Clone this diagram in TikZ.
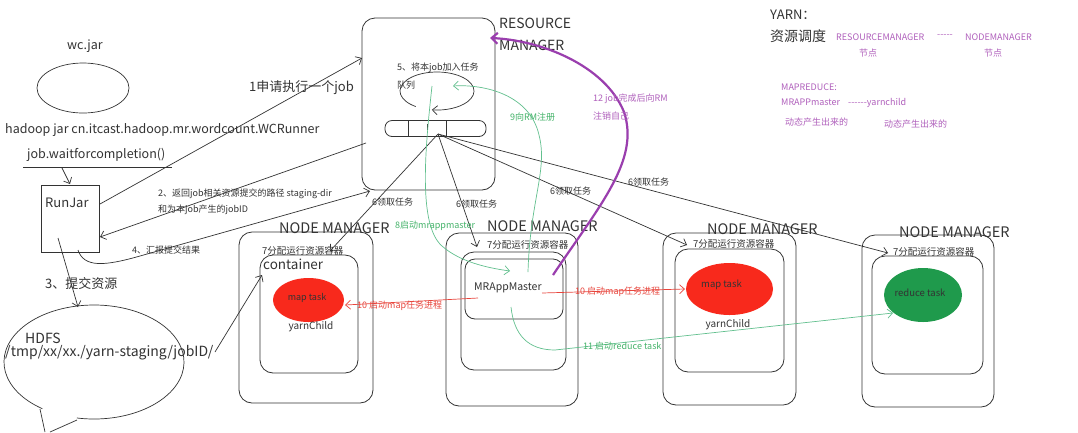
\documentclass[tikz,border=0pt]{standalone}
\usepackage{fontspec}
\setmainfont{Noto Sans CJK SC}
\usetikzlibrary{arrows.meta,shapes.geometric}
\definecolor{inkc}{HTML}{333333}
\definecolor{purtext}{HTML}{B060BC}
\definecolor{purline}{HTML}{9A3EAE}
\definecolor{grnline}{HTML}{62C08E}
\definecolor{grntext}{HTML}{45B36A}
\definecolor{redline}{HTML}{E8453C}
\definecolor{redfill}{HTML}{F8291C}
\definecolor{greenfill}{HTML}{1F9A4C}
\begin{document}
\begin{tikzpicture}[x=1pt,y=-1pt,
  ln/.style={draw=inkc, line width=0.7pt},
  arr/.style={ln, -{Straight Barb[length=5pt,width=9pt]}},
  rbox/.style={draw=inkc, line width=0.8pt, rounded corners=13pt, inner sep=0pt, minimum width=#1},
  sq/.style={draw=inkc, line width=0.8pt, inner sep=0pt},
  oval/.style={ellipse, inner sep=0pt},
  tx/.style={inner sep=0pt, anchor=west, text=inkc},
  sz/.style={font=\fontsize{#1}{#1}\selectfont},
  garr/.style={draw=grnline, line width=0.7pt, -{Straight Barb[length=5pt,width=9pt]}},
  rarr/.style={draw=redline, line width=0.7pt, -{Straight Barb[length=5pt,width=9pt]}},
]
\useasboundingbox[fill=white] (0,0) rectangle (1078,432);

% ---------- left column ----------
\node[tx, anchor=center, sz=12.5] (wct) at (85,46) {wc.jar};
\node[oval, draw=inkc, line width=0.7pt, minimum width=92, minimum height=50] (wc) at (83,88) {};
\node[tx, sz=12.5] (cmd) at (5,130) {hadoop jar cn.itcast.hadoop.mr.wordcount.WCRunner};
\node[tx, sz=12.5] (wait) at (27,155) {job.waitforcompletion()};
\coordinate (ul1) at (23,167); \coordinate (ul2) at (172,167);
\draw[ln] (ul1) -- (ul2);
\node[sq, minimum width=58, minimum height=67] (runjar) at (70,218.5) {};
\node[tx, sz=13] (rjt) at (45,203) {RunJar};
\coordinate (w1) at (62,168); \coordinate (w2) at (70,184);
\draw[arr] (w1) -- (w2);

% HDFS bubble
\coordinate (hc) at (94,362);
\draw[ln] (hc) ++(125:90 and 57) arc[start angle=125, end angle=461, x radius=90, y radius=57];
\coordinate (ht1) at (40,409); \coordinate (ht1b) at (45,432);
\coordinate (ht2) at (77,420); \coordinate (ht2b) at (50,432);
\draw[ln] (ht1) -- (ht1b);
\draw[ln] (ht2) -- (ht2b);
\node[tx, sz=14] (hdfs) at (25,338) {HDFS};
\node[tx, sz=14] (hpath) at (5,353) {/tmp/xx/xx./yarn-staging/jobID/};

% ---------- Resource manager ----------
\node[rbox=133, minimum height=172] (rm) at (428.5,104) {};
\node[tx, sz=14] (rmt1) at (499,23) {RESOURCE};
\node[tx, sz=14] (rmt2) at (499,45) {MANAGER};
\node[tx, sz=9] (q5a) at (397,68) {5、将本job加入任务};
\node[tx, sz=9] (q5b) at (397,85) {队列};
\coordinate (qe) at (437,91);
\draw[ln, -{Straight Barb[length=5pt,width=9pt]}] (qe) ++(125:37 and 19) arc[start angle=125, end angle=458, x radius=37, y radius=19];
\node[draw=inkc, line width=0.8pt, rounded corners=7pt, minimum width=101, minimum height=16, inner sep=0pt] (queue) at (435.5,128.5) {};
\coordinate (d1a) at (408,121); \coordinate (d1b) at (408,136);
\coordinate (d2a) at (446,121); \coordinate (d2b) at (446,136);
\coordinate (d3a) at (427,124); \coordinate (d3b) at (427,130);
\draw[ln] (d1a) -- (d1b); \draw[ln] (d2a) -- (d2b); \draw[ln] (d3a) -- (d3b);
\coordinate (qp) at (438,134);

% ---------- Node managers ----------
\node[rbox=134, minimum height=171] (nm1) at (306,317.5) {};
\node[rbox=98, minimum height=118] (c1) at (309,314) {};
\node[tx, sz=14.5] (nm1t) at (279,228) {NODE MANAGER};
\node[tx, sz=9.5] (a1) at (262,251) {7分配运行资源容器};
\node[tx, sz=13.5] (cont) at (263,264) {container};
\node[oval, fill=redfill, minimum width=71, minimum height=44] (map1) at (308.5,300) {};
\node[tx, anchor=center, sz=9] (map1t) at (307,298) {map task};
\node[tx, anchor=center, sz=10] (yc1) at (311,327) {yarnChild};

\node[rbox=132, minimum height=173] (nm2) at (512,319.5) {};
\node[rbox=105, minimum height=118] (c2) at (513.5,311) {};
\node[draw=inkc, line width=0.8pt, rounded corners=10pt, minimum width=98, minimum height=60, inner sep=0pt] (mrbox) at (514,289) {};
\node[tx, sz=14.5] (nm2t) at (487,226) {NODE MANAGER};
\node[tx, sz=9.5] (a2) at (487,245) {7分配运行资源容器};
\node[tx, sz=10.5] (mrt) at (474,288) {MRAppMaster};

\node[rbox=133, minimum height=172] (nm3) at (729.5,319) {};
\node[rbox=109, minimum height=123] (c3) at (729.5,310.5) {};
\node[tx, sz=14.5] (nm3t) at (707,229) {NODE MANAGER};
\node[tx, sz=9.5] (a3) at (693,244) {7分配运行资源容器};
\node[oval, fill=redfill, minimum width=87, minimum height=52] (map3) at (729.5,289) {};
\node[tx, sz=9.5] (map3t) at (701,285) {map task};
\node[tx, anchor=center, sz=10] (yc3) at (728,325) {yarnChild};

\node[rbox=132, minimum height=172] (nm4) at (928,321) {};
\node[rbox=111, minimum height=118] (c4) at (927.5,315) {};
\node[tx, sz=14.5] (nm4t) at (899,232) {NODE MANAGER};
\node[tx, sz=9.5] (a4) at (893,252) {7分配运行资源容器};
\node[oval, fill=greenfill, minimum width=78, minimum height=54] (red4) at (923,295) {};
\node[tx, anchor=center, sz=9.5] (red4t) at (920,293) {reduce task};

% ---------- black connectors ----------
\coordinate (r1s) at (100,204); \coordinate (r1e) at (362,58);
\draw[arr] (r1s) -- (r1e);
\node[tx, sz=13] (l1) at (249,88) {1申请执行一个job};

\coordinate (r2s) at (366,143); \coordinate (r2e) at (100,237);
\draw[arr] (r2s) -- (r2e);
\node[tx, sz=9] (l2a) at (158,194) {2、返回job相关资源提交的路径 staging-dir};
\node[tx, sz=9] (l2b) at (158,210) {和为本job产生的jobID};

\coordinate (r4s) at (78,250); \coordinate (r4e) at (370,191);
\draw[arr] (r4s) .. controls (84,268) and (105,266) .. (140,256) -- (r4e);
\node[tx, sz=9] (l4) at (132,250) {4、汇报提交结果};

\coordinate (r3s) at (58,238); \coordinate (r3e) at (78,307);
\draw[arr] (r3s) -- (r3e);
\node[tx, sz=13] (l3) at (45,284) {3、提交资源};

\coordinate (hs) at (215,352); \coordinate (he) at (262,275);
\draw[arr] (hs) -- (he);

\coordinate (n1e) at (330,251); \coordinate (n2e) at (477,247);
\coordinate (n3e) at (687,245); \coordinate (n4e) at (888,253);
\draw[arr] (qp) -- (n1e);
\draw[arr] (qp) -- (n2e);
\draw[arr] (qp) -- (n3e);
\draw[arr] (qp) -- (n4e);
\node[tx, sz=9] (l6a) at (372,202) {6领取任务};
\node[tx, sz=9] (l6b) at (456,204) {6领取任务};
\node[tx, sz=9] (l6c) at (550,191) {6领取任务};
\node[tx, sz=9] (l6d) at (628,182) {6领取任务};

% ---------- green ----------
\coordinate (g8s) at (432,86); \coordinate (g8e) at (510,271);
\draw[garr] (g8s) .. controls (425,150) and (418,225) .. (442,246) .. controls (460,262) and (488,268) .. (g8e);
\node[tx, text=grntext, sz=9] (l8) at (395,226) {8启动mrappmaster};

\coordinate (g9s) at (528,272); \coordinate (g9e) at (453,86);
\draw[garr] (g9s) .. controls (530,200) and (548,170) .. (539,135) .. controls (530,95) and (485,84) .. (g9e);
\node[tx, text=grntext, sz=9] (l9) at (510,117) {9向RM注册};

\coordinate (g11s) at (511,307); \coordinate (g11e) at (893,313);
\draw[garr] (g11s) .. controls (514,335) and (528,350) .. (555,350) -- (g11e);
\node[tx, text=grntext, sz=9] (l11) at (583,346) {11 启动reduce task};

% ---------- red ----------
\coordinate (m1s) at (478,298); \coordinate (m1e) at (345,305);
\draw[rarr] (m1s) -- (m1e);
\node[tx, text=redline, sz=9] (l10a) at (357,306) {10 启动map任务进程};
\coordinate (m3s) at (542,293); \coordinate (m3e) at (685,289);
\draw[rarr] (m3s) -- (m3e);
\node[tx, text=redline, sz=9] (l10b) at (575,292) {10 启动map任务进程};

% ---------- purple ----------
\coordinate (p12s) at (553,275); \coordinate (p12e) at (490,38);
\draw[draw=purline, line width=2.2pt, -{Straight Barb[length=6pt,width=11pt]}] (p12s) .. controls (600,205) and (640,160) .. (624,112) .. controls (605,65) and (540,40) .. (p12e);
\node[tx, text=purtext, sz=9] (l12a) at (593,99) {12 job完成后向RM};
\node[tx, text=purtext, sz=9] (l12b) at (593,116) {注销自己};

% ---------- top right notes ----------
\node[tx, sz=13] (yarn) at (770,15) {YARN：};
\node[tx, sz=14] (ziyuan) at (770,36) {资源调度};
\node[tx, text=purtext, sz=9] (rmn) at (836,37) {RESOURCEMANAGER};
\node[tx, text=purtext, sz=9] (dash1) at (937,36) {-{}-{}-{}-{}-};
\node[tx, text=purtext, sz=9] (nmn) at (965,37) {NODEMANAGER};
\node[tx, anchor=center, text=purtext, sz=9] (jd1) at (868,53) {节点};
\node[tx, anchor=center, text=purtext, sz=9] (jd2) at (993,53) {节点};
\node[tx, text=purtext, sz=9] (mapr) at (781,87) {MAPREDUCE:};
\node[tx, text=purtext, sz=9] (mrap) at (781,103) {MRAPPmaster\hspace{8pt}-{}-{}-{}-{}-{}-yarnchild};
\node[tx, text=purtext, sz=9] (dt1) at (785,122) {动态产生出来的};
\node[tx, text=purtext, sz=9] (dt2) at (884,124) {动态产生出来的};
\end{tikzpicture}
\end{document}
